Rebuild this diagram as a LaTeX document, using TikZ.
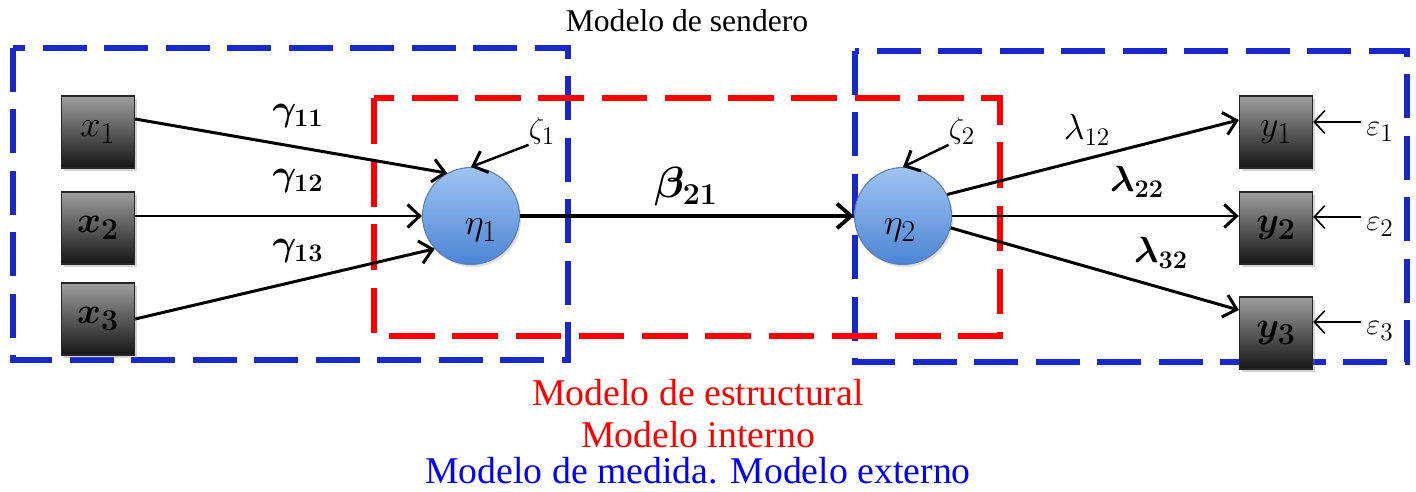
\documentclass[tikz,border=0pt]{standalone}
\usepackage{amsmath,bm}
\usepackage{fontspec}
\setmainfont{Liberation Serif}
\DeclareMathSizes{18}{18}{14}{11}
\DeclareMathSizes{20}{20}{15.5}{12}
\DeclareMathSizes{21}{21}{16}{12}
\DeclareMathSizes{25}{25}{19}{14}
\usetikzlibrary{arrows.meta,shadows}
\definecolor{dblue}{RGB}{25,40,205}
\definecolor{cirtop}{RGB}{160,196,242}
\definecolor{cirbot}{RGB}{76,132,212}
\definecolor{cirline}{RGB}{90,125,180}
\tikzset{
  obs/.style={rectangle, minimum width=1.46cm, minimum height=1.44cm, inner sep=0pt,
    top color=black!38, bottom color=black!92, draw=black!85, line width=0.8pt,
    drop shadow={opacity=0.35, shadow xshift=1.5pt, shadow yshift=-1.5pt},
    font=\fontsize{21}{24}\selectfont},
  lat/.style={circle, minimum size=1.94cm, inner sep=0pt,
    top color=cirtop, bottom color=cirbot, draw=cirline, line width=0.6pt,
    drop shadow={opacity=0.25, shadow xshift=1pt, shadow yshift=-1.5pt}},
  arr/.style={line width=1.7pt, -{Straight Barb[length=7pt,width=13pt,line width=1.7pt]}},
  barr/.style={line width=2.4pt, -{Straight Barb[length=8pt,width=14pt,line width=2.2pt]}},
  earr/.style={line width=0.9pt, -{Straight Barb[length=6pt,width=13pt,line width=0.9pt]}},
  coef/.style={inner sep=0pt, font=\fontsize{20}{24}\selectfont},
  err/.style={inner sep=0pt, font=\fontsize{18}{20}\selectfont},
  bluebox/.style={draw=dblue, line width=3pt, dash pattern=on 25pt off 10pt},
  redbox/.style={draw=red, line width=3pt, dash pattern=on 26pt off 10pt},
  captext/.style={inner sep=0pt, font=\fontsize{21.5}{24}\selectfont}
}
\begin{document}
\begin{tikzpicture}[x=0.02cm, y=-0.02cm]
\useasboundingbox (0,0) rectangle (1416,492);
% boxes
\draw[bluebox] (13,48) rectangle (568,360);
\draw[bluebox] (855,51) rectangle (1407,362);
\draw[redbox] (374,98) rectangle (1000,336);
% observed variables
\node[obs] (x1) at (98,132) {$x_1$};
\node[obs] (x2) at (98,228) {$\bm{x_2}$};
\node[obs] (x3) at (98,319) {$\bm{x_3}$};
\node[obs] (y1) at (1276,132) {$y_1$};
\node[obs] (y2) at (1276,228) {$\bm{y_2}$};
\node[obs] (y3) at (1276,333) {$\bm{y_3}$};
% latent variables
\node[lat, label={[font=\fontsize{21}{24}\selectfont, xshift=0.2cm, yshift=-0.28cm]center:$\eta_1$}] (eta1) at (471,216) {};
\node[lat, label={[font=\fontsize{21}{24}\selectfont, xshift=-0.06cm, yshift=-0.28cm]center:$\eta_2$}] (eta2) at (903,216) {};
% error labels
\node[err] (z1) at (542,131) {$\zeta_1$};
\node[err] (z2) at (962,131) {$\zeta_2$};
\node[err, anchor=west] (e1) at (1366,132) {$\varepsilon_1$};
\node[err, anchor=west] (e2) at (1366,227) {$\varepsilon_2$};
\node[err, anchor=west] (e3) at (1366,331) {$\varepsilon_3$};
% coefficient labels
\node[coef] (g11) at (298,116) {$\bm{\gamma_{11}}$};
\node[coef] (g12) at (298,181) {$\bm{\gamma_{12}}$};
\node[coef] (g13) at (298,251) {$\bm{\gamma_{13}}$};
\node[coef, font=\fontsize{25}{28}\selectfont] (b21) at (686,187) {$\bm{\beta_{21}}$};
\node[coef] (l12) at (1087,130) {$\lambda_{12}$};
\node[coef] (l22) at (1137,182) {$\bm{\lambda_{22}}$};
\node[coef] (l32) at (1161,253) {$\bm{\lambda_{32}}$};
% arrows
\draw[arr] ([yshift=0.26cm]x1.east) -- (eta1.119);
\draw[arr] (x2.east |- eta1.west) -- (eta1.west);
\draw[arr] (x3.east) -- (eta1.222);
\draw[barr] (eta1.east) -- (eta2.west);
\draw[arr] (eta2.26) -- ([yshift=0.24cm]y1.west);
\draw[arr] (eta2.east) -- (eta2.east -| y2.west);
\draw[arr] (eta2.-14) -- ([yshift=0.46cm]y3.west);
\draw[arr, line width=1.4pt] (z1.south west) -- (eta1.north);
\draw[arr, line width=1.4pt] (z2.south west) -- (eta2.north);
\coordinate (e1a) at ([yshift=0.2cm]e1.west);
\coordinate (e2a) at ([yshift=0.2cm]e2.west);
\coordinate (e3a) at ([yshift=0.18cm]e3.west);
\draw[earr] ([xshift=-0.1cm]e1a) -- (e1a -| y1.east);
\draw[earr] ([xshift=-0.1cm]e2a) -- (e2a -| y2.east);
\draw[earr] ([xshift=-0.1cm]e3a) -- (e3a -| y3.east);
% captions
\node[inner sep=0pt, font=\fontsize{18}{20}\selectfont] (title) at (687,21) {Modelo de sendero};
\node[captext, text=red] (c1) at (698,393) {Modelo de estructural};
\node[captext, text=red] (c2) at (698,435) {Modelo interno};
\node[captext, text=blue] (c3) at (698,471) {Modelo de medida. Modelo externo};
\end{tikzpicture}
\end{document}
